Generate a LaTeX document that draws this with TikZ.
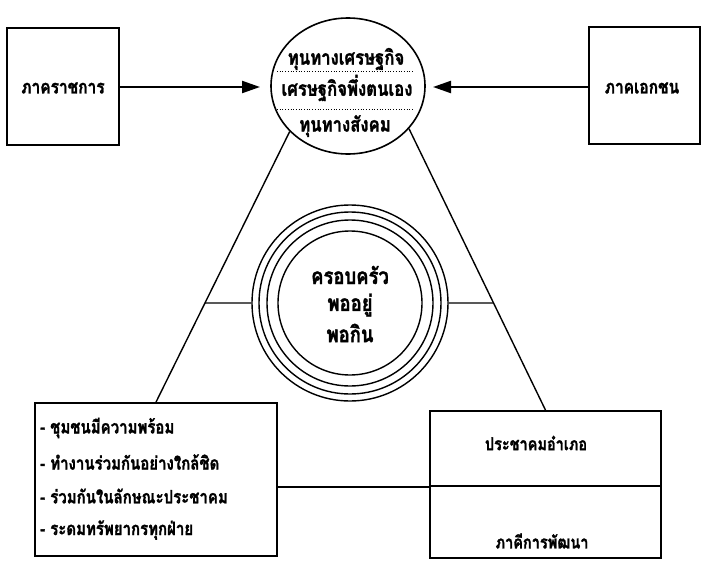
\documentclass[tikz,border=0pt]{standalone}
\usepackage{fontspec}
\newfontfamily\thaifont[Script=Thai, FakeStretch=0.82, BoldFeatures={FakeBold=1.5}]{Loma}
\usetikzlibrary{arrows.meta,shapes.geometric,calc}
\tikzset{
  txt/.style={font=\thaifont\bfseries\fontsize{#1}{22}\selectfont, inner sep=0pt},
  txt/.default=18.3,
  box/.style={draw, line width=1.8pt, inner sep=0pt},
  link/.style={line width=1.4pt},
  ring/.style={line width=1.4pt},
  push/.style={line width=2.2pt, -{Triangle[length=18pt,width=12pt]}},
}
\begin{document}
\begin{tikzpicture}[x=1pt,y=-1pt]
\useasboundingbox (0,0) rectangle (702,568);
% top boxes
\node[box, minimum width=112pt, minimum height=117pt] (gov) at (63,86.5) {};
\node[txt=18.9] (govt) at (63,88) {ภาคราชการ};
\node[box, minimum width=111pt, minimum height=117pt] (priv) at (644.5,85.5) {};
\node[txt=18.9] (privt) at (642,88) {ภาคเอกชน};
% core ellipse
\node[draw, line width=1.6pt, ellipse, minimum width=154pt, minimum height=136pt, inner sep=0pt] (core) at (348,86) {};
\node[txt=20.4] (core1) at (346,59) {ทุนทางเศรษฐกิจ};
\node[txt=20.4] (core2) at (347,88) {เศรษฐกิจพึ่งตนเอง};
\node[txt=20.4] (core3) at (345,126) {ทุนทางสังคม};
\draw[dotted, line width=0.7pt] (277,71) -- (414,71);
\draw[dotted, line width=0.7pt] (277,109) -- (414,109);
% arrows
\draw[push] (gov.east |- 0,87) -- (260,87);
\draw[push] (priv.west |- 0,87) -- (433,87);
% family rings
\node[draw, circle, ring, minimum size=196pt, inner sep=0pt] (fam) at (350,303) {};
\draw[ring] (fam.center) circle (91);
\draw[ring] (fam.center) circle (83);
\draw[ring] (fam.center) circle (72);
\node[txt=22.5] (fam1) at (350,275) {ครอบครัว};
\node[txt=22.5] (fam2) at (350,305) {พออยู่};
\node[txt=22.5] (fam3) at (350,333) {พอกิน};
% bottom left box
\node[box, minimum width=242pt, minimum height=153pt] (comm) at (156,479.5) {};
\node[txt, anchor=west] (c1) at (40,428) {- ชุมชนมีความพร้อม};
\node[txt, anchor=west] (c2) at (40,462) {- ทำงานร่วมกันอย่างใกล้ชิด};
\node[txt, anchor=west] (c3) at (40,496) {- ร่วมกันในลักษณะประชาคม};
\node[txt, anchor=west] (c4) at (40,530) {- ระดมทรัพยากรทุกฝ่าย};
% bottom right box
\node[box, minimum width=231pt, minimum height=75pt] (distA) at (545.5,448.5) {};
\node[box, minimum width=231pt, minimum height=72pt] (distB) at (545.5,522) {};
\node[txt=17.7] (dA) at (536,443) {ประชาคมอำเภอ};
\node[txt=17.7] (dB) at (542,541) {ภาคีการพัฒนา};
% triangle
\draw[link] (core.218) -- (comm.north);
\draw[link] (core.325) -- (distA.north);
\coordinate (tL) at (intersection cs: first line={(core.218)--(comm.north)}, second line={(fam.west)--(fam.east)});
\coordinate (tR) at (intersection cs: first line={(core.325)--(distA.north)}, second line={(fam.west)--(fam.east)});
\draw[link] (tL) -- (fam.west);
\draw[link] (fam.east) -- (tR);
\draw[link, line width=1.8pt] (distA.south west -| comm.east) -- (distA.south west);
\end{tikzpicture}
\end{document}
